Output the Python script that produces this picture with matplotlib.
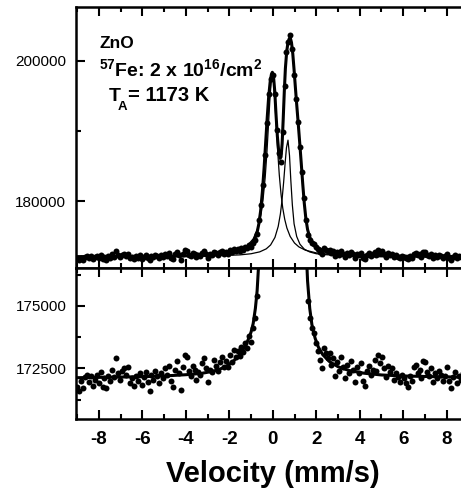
#!/usr/bin/python
# Mossbauer emission spectrum, ZnO implanted with 57Fe, two stacked panels
import matplotlib
matplotlib.use('Agg')
import matplotlib.pyplot as plt
from matplotlib.ticker import MultipleLocator

plt.rcParams['font.family'] = 'Liberation Sans'
plt.rcParams['mathtext.fontset'] = 'custom'
plt.rcParams['mathtext.bf'] = 'Liberation Sans:bold'
plt.rcParams['mathtext.rm'] = 'Liberation Sans:bold'
plt.rcParams['mathtext.default'] = 'bf'

# measured points (velocity in mm/s, counts)
velocity = [
    -9.00, -8.91, -8.82, -8.73, -8.64, -8.55, -8.46, -8.37, -8.28, -8.19,
    -8.10, -8.01, -7.92, -7.83, -7.74, -7.65, -7.56, -7.47, -7.38, -7.29,
    -7.20, -7.11, -7.02, -6.93, -6.84, -6.75, -6.66, -6.57, -6.48, -6.39,
    -6.30, -6.21, -6.12, -6.03, -5.94, -5.85, -5.76, -5.67, -5.58, -5.49,
    -5.40, -5.31, -5.22, -5.13, -5.04, -4.95, -4.86, -4.77, -4.68, -4.59,
    -4.50, -4.41, -4.32, -4.23, -4.14, -4.05, -3.96, -3.87, -3.78, -3.69,
    -3.60, -3.51, -3.42, -3.33, -3.24, -3.15, -3.06, -2.97, -2.88, -2.79,
    -2.70, -2.61, -2.52, -2.43, -2.34, -2.25, -2.16, -2.07, -1.98, -1.89,
    -1.80, -1.71, -1.62, -1.53, -1.44, -1.35, -1.26, -1.17, -1.08, -0.99,
    -0.90, -0.81, -0.72, -0.63, -0.54, -0.45, -0.36, -0.27, -0.18, -0.09,
    0.00, 0.09, 0.18, 0.27, 0.36, 0.45, 0.54, 0.63, 0.72, 0.81,
    0.90, 0.99, 1.08, 1.17, 1.26, 1.35, 1.44, 1.53, 1.62, 1.71,
    1.80, 1.89, 1.98, 2.07, 2.16, 2.25, 2.34, 2.43, 2.52, 2.61,
    2.70, 2.79, 2.88, 2.97, 3.06, 3.15, 3.24, 3.33, 3.42, 3.51,
    3.60, 3.69, 3.78, 3.87, 3.96, 4.05, 4.14, 4.23, 4.32, 4.41,
    4.50, 4.59, 4.68, 4.77, 4.86, 4.95, 5.04, 5.13, 5.22, 5.31,
    5.40, 5.49, 5.58, 5.67, 5.76, 5.85, 5.94, 6.03, 6.12, 6.21,
    6.30, 6.39, 6.48, 6.57, 6.66, 6.75, 6.84, 6.93, 7.02, 7.11,
    7.20, 7.29, 7.38, 7.47, 7.56, 7.65, 7.74, 7.83, 7.92, 8.01,
    8.10, 8.19, 8.28, 8.37, 8.46, 8.55, 8.64, 8.73, 8.82, 8.91,
    9.00]
counts = [
    171750, 171600, 172000, 171700, 172150, 172250, 171950, 172200, 171800, 172050,
    172250, 171900, 172350, 171750, 172100, 171700, 172200, 172000, 172450, 172150,
    172900, 172300, 172050, 172400, 172500, 172250, 172550, 171900, 172100, 171800,
    172200, 172000, 172300, 171850, 172150, 172350, 171950, 171600, 172250, 172050,
    172400, 172200, 171900, 172300, 172100, 172500, 172250, 172600, 172000, 171750,
    172450, 172800, 172300, 171650, 172550, 173050, 172950, 172400, 172200, 172600,
    172450, 172050, 172350, 172250, 172700, 172900, 172500, 171950, 172450, 172350,
    172850, 172600, 172400, 172750, 172950, 172550, 172800, 172550, 173050, 172750,
    173250, 172950, 173200, 173000, 173350, 173150, 173500, 173300, 173800, 173550,
    174100, 174500, 175400, 177300, 179500, 182300, 186600, 191100, 195200, 197400,
    197900, 195300, 190100, 186900, 185600, 189800, 196400, 201200, 202600, 203700,
    201700, 197900, 194500, 191300, 187700, 184200, 180500, 177300, 175200, 174500,
    174100, 173900, 173500, 173200, 172850, 172500, 173300, 173100, 172900, 173100,
    172650, 172900, 172200, 172750, 172400, 172950, 172550, 172100, 172650, 172300,
    172800, 172450, 171950, 172550, 172300, 172700, 172000, 171800, 172400, 172600,
    172250, 172450, 172850, 172400, 173050, 172700, 172950, 172500, 172150, 172600,
    172350, 172500, 172050, 172300, 172150, 171950, 172250, 172100, 171900, 171750,
    172200, 172000, 172550, 172650, 172300, 172450, 172100, 172800, 172750, 172350,
    172200, 172500, 171950, 172300, 172100, 172400, 172250, 172000, 172200, 172550,
    172000, 171700, 172150, 172350, 171900, 172200, 172050, 172300, 172000, 172250,
    172100]

# total fit (thick line)
fit_v = [-9.05, -7.5, -6.0, -5.0, -4.0, -3.3, -2.8, -2.5, -2.2, -2.0,
         -1.8, -1.6, -1.4, -1.2, -1.0, -0.9, -0.8, -0.72, -0.64, -0.56,
         -0.48, -0.40, -0.33, -0.26, -0.19, -0.12, -0.06, -0.02, 0.03, 0.09,
         0.15, 0.21, 0.27, 0.33, 0.38, 0.43, 0.48, 0.53, 0.58, 0.64,
         0.70, 0.76, 0.81, 0.86, 0.92, 0.98, 1.04, 1.10, 1.17, 1.24,
         1.31, 1.38, 1.45, 1.52, 1.60, 1.70, 1.80, 1.95, 2.1, 2.3,
         2.6, 3.0, 3.5, 4.2, 5.0, 6.0, 7.5, 9.05]
fit_total = [172130, 172150, 172170, 172200, 172250, 172300, 172380, 172450, 172560, 172670,
             172800, 172980, 173200, 173500, 173950, 174300, 174900, 175600, 176800, 178600,
             181300, 184700, 188200, 191700, 194800, 197000, 198100, 198350, 197900, 195700,
             192300, 189300, 187200, 186100, 186300, 188200, 191700, 195600, 198900, 201300,
             202600, 203150, 203200, 202600, 201000, 198700, 196200, 193800, 191100, 188300,
             185400, 182400, 179700, 177600, 176000, 174900, 174250, 173700, 173350, 173050,
             172780, 172570, 172420, 172310, 172240, 172200, 172170, 172150]

# sub-spectrum near 0 mm/s (thin line)
comp1_v = [-9.05, -6, -4, -3, -2.2, -1.6, -1.2, -0.9, -0.7, -0.55,
           -0.45, -0.35, -0.27, -0.2, -0.14, -0.08, -0.02, 0.04, 0.1, 0.16,
           0.22, 0.3, 0.38, 0.46, 0.55, 0.65, 0.8, 1.0, 1.2, 1.5,
           2.0, 2.6, 3.5, 5, 7, 9.05]
comp1 = [172177, 172210, 172286, 172391, 172597, 172987, 173614, 174667, 176104, 178072,
         180181, 183348, 186895, 190706, 194097, 196795, 197850, 196795, 194097, 190706,
         187402, 183737, 181006, 179022, 177438, 176204, 175006, 174072, 173524, 173052,
         172669, 172461, 172323, 172235, 172194, 172177]

# sub-spectrum near 0.7 mm/s (thin line)
comp2_v = [-9.05, -6, -4, -2.5, -1.5, -1.0, -0.6, -0.3, -0.1, 0.1,
           0.25, 0.35, 0.42, 0.5, 0.57, 0.63, 0.7, 0.77, 0.83, 0.9,
           0.98, 1.1, 1.25, 1.45, 1.7, 2.0, 2.5, 3.2, 4.2, 5.5,
           7.0, 9.05]
comp2 = [172162, 172176, 172203, 172264, 172388, 172546, 172815, 173244, 173797, 174868,
         176435, 178210, 180001, 182725, 185508, 187632, 188700, 186500, 183000, 179500,
         176800, 175000, 173900, 173200, 172800, 172550, 172400, 172300, 172230, 172195,
         172175, 172165]

xticks = [-8, -6, -4, -2, 0, 2, 4, 6, 8]
xtick_labels = ['-8', '-6', '-4', '-2', '0', '2', '4', '6', '8']
top_yticks = [180000, 200000]
bottom_yticks = [172500, 175000]

fig = plt.figure(figsize=(4.61, 4.97), dpi=100)
ax1 = fig.add_axes([0.1649, 0.4602, 0.8536, 0.5258])
ax2 = fig.add_axes([0.1649, 0.1569, 0.8536, 0.3032])

for ax in (ax1, ax2):
    ax.plot(velocity, counts, 'o', color='k', ms=4.3, mew=0)
    ax.plot(fit_v, fit_total, color='k', lw=2.2)
    ax.set_xlim(-9.05, 9.05)
    ax.set_xticks(xticks)
    ax.xaxis.set_minor_locator(MultipleLocator(1))
    ax.tick_params(which='both', direction='in', top=True, right=True, width=1.5)
    ax.tick_params(which='major', length=6.5)
    ax.tick_params(which='minor', length=3.5)
    ax.tick_params(axis='y', labelsize=11, pad=7)
    for s in ax.spines.values():
        s.set_linewidth(1.8)

ax1.plot(comp1_v, comp1, color='k', lw=0.9)
ax1.plot(comp2_v, comp2, color='k', lw=0.9)
ax1.set_ylim(170480, 207640)
ax1.set_yticks(top_yticks)
ax1.set_yticklabels([str(t) for t in top_yticks])
ax1.yaxis.set_minor_locator(MultipleLocator(10000))
ax1.tick_params(labelbottom=False)

ax2.set_ylim(170480, 176500)
ax2.set_yticks(bottom_yticks)
ax2.set_yticklabels([str(t) for t in bottom_yticks])
ax2.yaxis.set_minor_locator(MultipleLocator(1250))
ax2.set_xticklabels(xtick_labels, fontweight='bold', fontsize=13.5)
ax2.tick_params(axis='x', pad=8.5)
ax2.set_xlabel('Velocity (mm/s)', fontsize=21, fontweight='bold', labelpad=9)

# sample annotation
fig.text(99.3 / 461, 1 - 47.7 / 497, 'ZnO', fontsize=12.5, fontweight='bold', va='baseline')
fig.text(99.3 / 461, 1 - 76 / 497, r'$^{57}$Fe: 2 x 10$^{16}$/cm$^{2}$',
         fontsize=14, fontweight='bold', va='baseline')
fig.text(108.3 / 461, 1 - 100.7 / 497, 'T', fontsize=14, fontweight='bold', va='baseline')
fig.text(117.5 / 461, 1 - 110 / 497, 'A', fontsize=9.5, fontweight='bold', va='baseline')
fig.text(128.5 / 461, 1 - 100.7 / 497, '= 1173 K', fontsize=14.5, fontweight='bold',
         va='baseline')

plt.savefig('out.png', dpi=100)
